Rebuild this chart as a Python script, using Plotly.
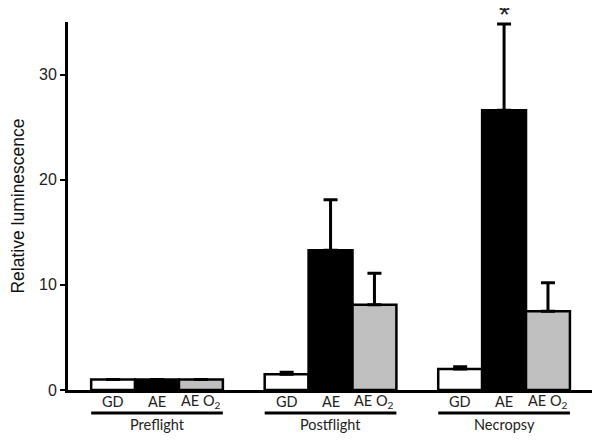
import plotly.graph_objects as go

groups = ["Preflight", "Postflight", "Necropsy"]
series = ["GD", "AE", "AE O<sub>2</sub>"]
gd = [1.0, 1.5, 2.0]
gd_err = [0.0, 0.2, 0.2]
ae = [1.0, 13.3, 26.6]
ae_err = [0.0, 4.8, 8.2]
aeo2 = [1.0, 8.1, 7.5]
aeo2_err = [0.0, 3.0, 2.7]
fills = ["white", "black", "#c0c0c0"]
yticks = [0, 10, 20, 30]

xs = [0, 1, 2]
bw = 0.253
offs = [-bw, 0, bw]

fig = go.Figure()
for vals, errs, col, off in zip([gd, ae, aeo2], [gd_err, ae_err, aeo2_err], fills, offs):
    fig.add_trace(go.Bar(
        x=[x + off for x in xs], y=vals, width=bw,
        marker=dict(color=col, line=dict(color="black", width=2.5)),
        error_y=dict(type="data", array=errs, arrayminus=[0]*3, symmetric=False,
                     color="black", thickness=3, width=7),
        showlegend=False,
    ))

annotations = []
shapes = []
for gi, g in enumerate(groups):
    for si, s in enumerate(series):
        annotations.append(dict(x=xs[gi] + offs[si], y=-0.031, xref="x", yref="paper",
                                text=s, showarrow=False, yanchor="middle",
                                font=dict(family="Lato", size=14.5, color="#222")))
    annotations.append(dict(x=xs[gi], y=-0.094, xref="x", yref="paper", text=g,
                            showarrow=False, yanchor="middle",
                            font=dict(family="Lato", size=14.5, color="#222")))
    shapes.append(dict(type="line", xref="x", yref="paper",
                       x0=xs[gi] - 1.5 * bw, x1=xs[gi] + 1.5 * bw, y0=-0.0625, y1=-0.0625,
                       line=dict(color="black", width=3)))

annotations.append(dict(x=xs[2], y=1.068, xref="x", yref="paper", text="*",
                        showarrow=False, yanchor="top",
                        font=dict(family="Liberation Sans", size=28, color="#222")))

fig.update_layout(
    width=592, height=432,
    margin=dict(l=60, r=5, t=14, b=50),
    plot_bgcolor="white", paper_bgcolor="white",
    barmode="overlay",
    annotations=annotations, shapes=shapes,
    xaxis=dict(range=[-0.513, 2.524], showticklabels=False, ticks="", showgrid=False,
               zeroline=False, showline=True, linecolor="black", linewidth=3,
               automargin=False),
    yaxis=dict(range=[0, 35], tickvals=yticks, ticks="outside", ticklen=5, tickwidth=1.5,
               tickcolor="black", showgrid=False, zeroline=False, showline=True,
               linecolor="black", linewidth=3, automargin=False,
               tickfont=dict(family="Liberation Sans", size=16, color="#222"),
               title=dict(text="Relative luminescence", standoff=12,
                          font=dict(family="Liberation Sans", size=17.5, color="#111"))),
)
fig.write_html("out.html")
